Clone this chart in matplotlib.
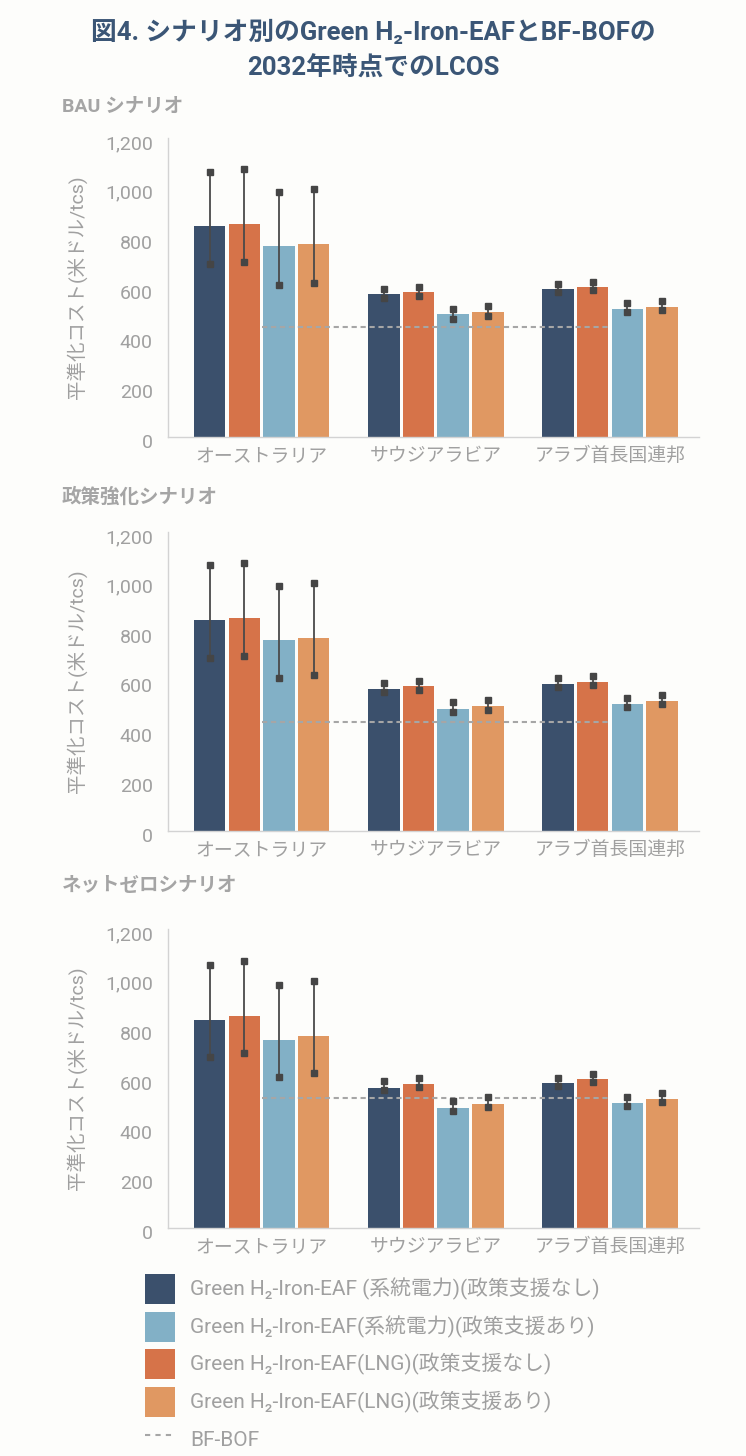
import matplotlib
matplotlib.use('Agg')
import matplotlib.pyplot as plt
from matplotlib.patches import Patch
from matplotlib.lines import Line2D
from matplotlib.transforms import ScaledTranslation
import numpy as np

plt.rcParams['font.family'] = ['Roboto', 'Noto Sans CJK JP', 'DejaVu Sans']

# ---------------- data ----------------
countries = ['オーストラリア', 'サウジアラビア', 'アラブ首長国連邦']
scenario_titles = ['BAU シナリオ', '政策強化シナリオ', 'ネットゼロシナリオ']
series_names = [
    'Green H₂-Iron-EAF (系統電力)(政策支援なし)',
    'Green H₂-Iron-EAF(LNG)(政策支援なし)',
    'Green H₂-Iron-EAF(系統電力)(政策支援あり)',
    'Green H₂-Iron-EAF(LNG)(政策支援あり)',
]
bfbof_name = 'BF-BOF'
ytick_values = [0, 200, 400, 600, 800, 1000, 1200]
ytick_labels = ['0', '200', '400', '600', '800', '1,000', '1,200']

# series order: grid/no support, LNG/no support, grid/support, LNG/support
bau_mid = [[846, 572, 592], [854, 582, 602], [767, 494, 513], [775, 502, 522]]
bau_low = [[695, 556, 583], [701, 564, 590], [611, 475, 502], [620, 486, 510]]
bau_high = [[1064, 594, 616], [1075, 602, 624], [984, 514, 536], [994, 524, 544]]

pol_mid = [[846, 570, 590], [854, 580, 600], [766, 491, 511], [775, 502, 522]]
pol_low = [[696, 559, 579], [704, 567, 587], [615, 479, 499], [626, 487, 508]]
pol_high = [[1066, 595, 614], [1075, 604, 622], [984, 516, 534], [996, 526, 544]]

nz_mid = [[836, 560, 580], [850, 577, 596], [756, 481, 502], [770, 497, 517]]
nz_low = [[688, 552, 569], [701, 565, 584], [606, 470, 489], [621, 486, 504]]
nz_high = [[1057, 588, 604], [1073, 602, 620], [977, 508, 526], [993, 524, 541]]

bfbof = [440, 439, 522]

# ---------------- style ----------------
colors = ['#3B506C', '#D67349', '#82B0C6', '#E09862']
legend_order = [0, 2, 1, 3]
bg = '#FDFDFB'
grey_text = '#A0A0A0'
title_color = '#3B5676'

W, H = 746, 1456
fig = plt.figure(figsize=(W / 100, H / 100), dpi=100, facecolor=bg)

baselines = [437, 831, 1228]
header_y = [107, 497, 886]
axis_left, axis_right = 168, 699
axis_h = 299

mids = [bau_mid, pol_mid, nz_mid]
lows = [bau_low, pol_low, nz_low]
highs = [bau_high, pol_high, nz_high]

pitch = 0.199
bw = 0.181
x = np.arange(len(countries))

for p in range(3):
    ax = fig.add_axes([axis_left / W, 1 - baselines[p] / H,
                       (axis_right - axis_left) / W, axis_h / H])
    ax.set_facecolor(bg)
    for k in range(4):
        xs = x + (k - 1.5) * pitch
        m = np.array(mids[p][k])
        lo = np.array(lows[p][k])
        hi = np.array(highs[p][k])
        ax.bar(xs, m, width=bw, color=colors[k], zorder=2)
        ax.errorbar(xs, m, yerr=[m - lo, hi - m], fmt='none',
                    ecolor='#4A4A4A', elinewidth=1.3, capsize=0, zorder=4)
        ax.plot(xs, lo, 's', color='#454545', markersize=4.2, zorder=5)
        ax.plot(xs, hi, 's', color='#454545', markersize=4.2, zorder=5)
    ax.plot(x, [bfbof[p]] * len(x), color='#A6A6A6', lw=1.5,
            ls=(0, (2.5, 1.8)), zorder=3)
    ax.set_xlim(-0.538, 2.511)
    ax.set_ylim(0, 1200)
    ax.set_yticks(ytick_values)
    ax.set_yticklabels(ytick_labels)
    ax.set_xticks(x)
    ax.set_xticklabels(countries)
    ax.tick_params(axis='both', length=0, labelcolor=grey_text)
    ax.tick_params(axis='y', pad=11, labelsize=14)
    ax.tick_params(axis='x', pad=7, labelsize=13.6)
    shift = ScaledTranslation(0, -4 / 100, fig.dpi_scale_trans)
    for lab in ax.get_yticklabels():
        lab.set_transform(lab.get_transform() + shift)
    for s in ['top', 'right']:
        ax.spines[s].set_visible(False)
    for s in ['left', 'bottom']:
        ax.spines[s].set_color('#D3D3D3')
        ax.spines[s].set_linewidth(1.0)
    ax.set_ylabel('平準化コスト(米ドル/tcs)', fontsize=14, color=grey_text,
                  va='center')
    ax.yaxis.set_label_coords((77 - axis_left) / (axis_right - axis_left), 0.5)
    fig.text(62 / W, 1 - header_y[p] / H, scenario_titles[p], fontsize=14,
             fontweight='bold', color='#A5A5A5', ha='left', va='center')

fig.text(0.5, 1 - 50 / H,
         '図4. シナリオ別のGreen H₂-Iron-EAFとBF-BOFの\n2032年時点でのLCOS',
         ha='center', va='center', fontsize=18.5, fontweight='bold',
         color=title_color, linespacing=1.58)

handles = [Patch(facecolor=colors[k]) for k in legend_order]
labels = [series_names[k] for k in legend_order]
handles.append(Line2D([0], [0], color='#A6A6A6', lw=1.5, ls=(0, (2.5, 2.5))))
labels.append(bfbof_name)
fig.legend(handles, labels, loc='upper left',
           bbox_to_anchor=(145 / W, 1 - 1274 / H), frameon=False, fontsize=15,
           handlelength=1.44, handleheight=1.84, labelspacing=0.36,
           handletextpad=0.72, borderpad=0, borderaxespad=0,
           labelcolor=grey_text)

fig.savefig('out.png', dpi=100, facecolor=bg)
